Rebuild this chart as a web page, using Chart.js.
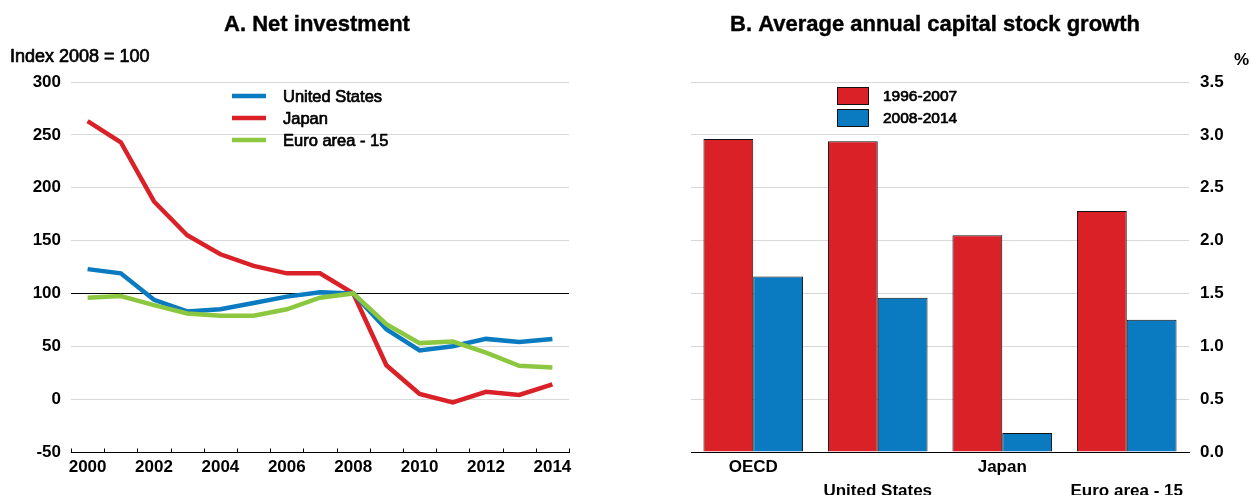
<!DOCTYPE html>
<html><head><meta charset="utf-8">
<script src="https://cdn.jsdelivr.net/npm/chart.js@4/dist/chart.umd.min.js"></script>
<style>
html,body{margin:0;padding:0;background:#fff;}
#wrap{position:relative;width:1251px;height:495px;overflow:hidden;}
#c1{position:absolute;left:0;top:0;}
#c2{position:absolute;left:625px;top:0;}
</style></head><body>
<div id="wrap"><canvas id="c1" width="625" height="495"></canvas><canvas id="c2" width="626" height="495"></canvas></div>
<script>
// ---- Data ----
const yearLabels = ['2000','2001','2002','2003','2004','2005','2006','2007','2008','2009','2010','2011','2012','2013','2014'];
const unitedStates = [123,119,94,83,85,91,97,101,100,66,46,50,57,54,57];
const japan = [263,243,187,155,137,126,119,119,100,32,5,-3,7,4,14];
const euroArea15 = [96,97.5,89,81,79,79,85,96,100,71,53,54.5,44,31.5,30];
const leftTickValues = [-50,0,50,100,150,200,250,300];
const regions = ['OECD','United States','Japan','Euro area - 15'];
const growth19962007 = [2.96,2.94,2.05,2.28];
const growth20082014 = [1.66,1.46,0.18,1.25];
const rightTickValues = [0,0.5,1,1.5,2,2.5,3,3.5];

const BLUE = '#0a7bc1', RED = '#da2128', GREEN = '#8cc83f';
const FONT = "'Liberation Sans', Arial, sans-serif";
const STROKE = 0.7;
Chart.defaults.font.family = FONT;
Chart.defaults.color = '#000';

function heavyText(ctx, text, x, y, sw) {
  if (sw > 0) { ctx.lineWidth = sw; ctx.strokeStyle = '#000'; ctx.lineJoin = 'round'; ctx.strokeText(text, x, y); }
  ctx.fillText(text, x, y);
}

const textPlugin = {
  id: 'texts',
  afterDraw(chart, args, opts) {
    const ctx = chart.ctx;
    ctx.save();
    ctx.fillStyle = '#000';
    ctx.textBaseline = 'middle';
    (opts.items || []).forEach(t => {
      ctx.font = t.font;
      ctx.textAlign = t.align || 'left';
      heavyText(ctx, t.text, t.x, t.y, t.stroke || 0);
    });
    ctx.restore();
  }
};

const lineLegend = {
  id: 'lineLegend',
  afterDraw(chart, args, opts) {
    if (!opts.show) return;
    const ctx = chart.ctx;
    ctx.save();
    chart.data.datasets.forEach((ds, i) => {
      const y = opts.y + i * opts.gap;
      ctx.strokeStyle = ds.borderColor;
      ctx.lineWidth = 4.5;
      ctx.beginPath(); ctx.moveTo(opts.x, y); ctx.lineTo(opts.x + 34, y); ctx.stroke();
      ctx.fillStyle = '#000';
      ctx.font = opts.size + 'px ' + FONT;
      ctx.textBaseline = 'middle';
      ctx.textAlign = 'left';
      heavyText(ctx, ds.label, opts.x + 51, y + 1, STROKE);
    });
    ctx.restore();
  }
};

const boxLegend = {
  id: 'boxLegend',
  afterDraw(chart, args, opts) {
    if (!opts.show) return;
    const ctx = chart.ctx;
    ctx.save();
    chart.data.datasets.forEach((ds, i) => {
      const y = opts.y + i * opts.gap;
      ctx.fillStyle = ds.backgroundColor;
      ctx.fillRect(opts.x, y - 9, 32, 18);
      ctx.strokeStyle = '#111';
      ctx.lineWidth = 1;
      ctx.strokeRect(opts.x + 0.5, y - 8.5, 31, 17);
      ctx.fillStyle = '#000';
      ctx.font = opts.size + 'px ' + FONT;
      ctx.textBaseline = 'middle';
      ctx.textAlign = 'left';
      heavyText(ctx, ds.label, opts.x + 46, y + 1, STROKE);
    });
    ctx.restore();
  }
};

const upTicks = {
  id: 'upTicks',
  afterDraw(chart, args, opts) {
    if (!opts.show) return;
    const xs = chart.scales.x;
    const n = chart.data.labels.length;
    const half = (xs.getPixelForValue(1) - xs.getPixelForValue(0)) / 2;
    const y = Math.round(chart.chartArea.bottom) + 0.5;
    const ctx = chart.ctx;
    ctx.save();
    ctx.strokeStyle = '#000'; ctx.lineWidth = 1;
    for (let i = 0; i <= n; i++) {
      const x = Math.round(xs.getPixelForValue(0) - half + i * 2 * half) + 0.5;
      ctx.beginPath(); ctx.moveTo(x, y); ctx.lineTo(x, y - 4); ctx.stroke();
    }
    ctx.restore();
  }
};

Chart.register(textPlugin, lineLegend, boxLegend, upTicks);

const tickFont = {size: 17, weight: 'bold'};

// ---- Panel A ----
new Chart(document.getElementById('c1'), {
  type: 'line',
  data: {
    labels: yearLabels,
    datasets: [
      {label: 'United States', data: unitedStates, borderColor: BLUE, order: 1},
      {label: 'Japan', data: japan, borderColor: RED, order: 2},
      {label: 'Euro area - 15', data: euroArea15, borderColor: GREEN, order: 0}
    ].map(d => Object.assign(d, {borderWidth: 4.5, pointRadius: 0, tension: 0, fill: false, borderJoinStyle: 'miter'}))
  },
  options: {
    responsive: false, animation: false, devicePixelRatio: 1,
    layout: {padding: {left: 0, right: 56, top: 82, bottom: 0}},
    plugins: {
      legend: {display: false}, tooltip: {enabled: false}, title: {display: false},
      texts: {items: [
        {text: 'A. Net investment', x: 317, y: 25, font: 'bold 22px ' + FONT, align: 'center', stroke: 0.4},
        {text: 'Index 2008 = 100', x: 10, y: 57, font: '18px ' + FONT, align: 'left', stroke: STROKE}
      ]},
      lineLegend: {show: true, x: 232, y: 96, gap: 22, size: 16.5},
      upTicks: {show: true}
    },
    scales: {
      x: {
        type: 'category', offset: true,
        grid: {display: false, drawTicks: false},
        border: {display: true, color: '#000', width: 1},
        ticks: {autoSkip: false, maxRotation: 0, minRotation: 0, padding: 5,
          font: tickFont, color: '#000',
          callback: (v, i) => i % 2 === 0 ? yearLabels[i] : ''},
        afterFit: s => { s.height = 43; }
      },
      y: {
        min: -50, max: 300,
        afterBuildTicks: s => { s.ticks = leftTickValues.map(v => ({value: v})); },
        grid: {drawTicks: false, lineWidth: 1,
          color: c => c.tick.value === 100 ? '#000' : (c.tick.value === -50 ? 'rgba(0,0,0,0)' : '#d9d9d9')},
        border: {display: false},
        ticks: {padding: 10, font: tickFont, color: '#000'},
        afterFit: s => { s.width = 71; }
      }
    }
  }
});

// ---- Panel B ----
new Chart(document.getElementById('c2'), {
  type: 'bar',
  data: {
    labels: regions,
    datasets: [
      {label: '1996-2007', data: growth19962007, backgroundColor: RED},
      {label: '2008-2014', data: growth20082014, backgroundColor: BLUE}
    ].map(d => Object.assign(d, {borderColor: '#111', borderWidth: 1, categoryPercentage: 0.8, barPercentage: 1.0}))
  },
  options: {
    responsive: false, animation: false, devicePixelRatio: 1,
    layout: {padding: {left: 66, right: 0, top: 82, bottom: 0}},
    plugins: {
      legend: {display: false}, tooltip: {enabled: false}, title: {display: false},
      texts: {items: [
        {text: 'B. Average annual capital stock growth', x: 310, y: 25, font: 'bold 22px ' + FONT, align: 'center', stroke: 0.4},
        {text: '%', x: 616.5, y: 60, font: 'bold 17px ' + FONT, align: 'center'}
      ]},
      boxLegend: {show: true, x: 212, y: 96, gap: 22, size: 15.5}
    },
    scales: {
      x: {
        grid: {display: false, drawTicks: false},
        border: {display: true, color: '#000', width: 1},
        ticks: {autoSkip: false, maxRotation: 0, minRotation: 0, padding: 3,
          font: {size: 17, weight: 'bold', lineHeight: 1.41}, color: '#000',
          callback: (v, i) => i % 2 === 0 ? regions[i] : ['', regions[i]]},
        afterFit: s => { s.height = 43; }
      },
      y: {
        position: 'right', min: 0, max: 3.5,
        afterBuildTicks: s => { s.ticks = rightTickValues.map(v => ({value: v})); },
        grid: {drawTicks: false, lineWidth: 1,
          color: c => c.tick.value === 0 ? 'rgba(0,0,0,0)' : '#d9d9d9'},
        border: {display: false},
        ticks: {padding: 11, font: tickFont, color: '#000',
          callback: v => Number(v).toFixed(1)},
        afterFit: s => { s.width = 62; }
      }
    }
  }
});
</script>
</body></html>
